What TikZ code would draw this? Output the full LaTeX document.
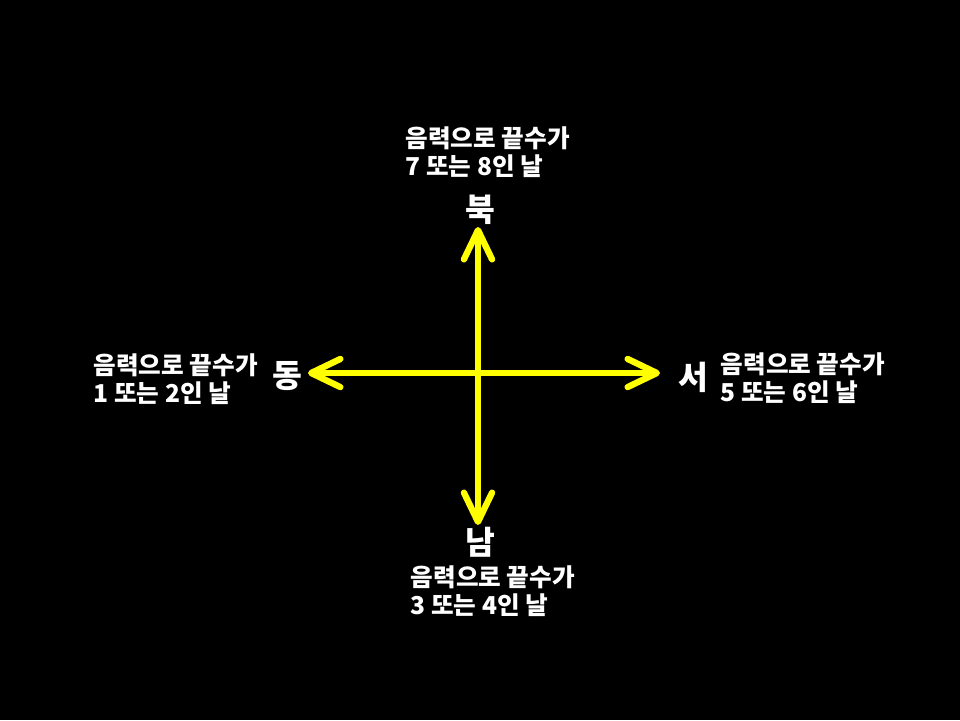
\documentclass[tikz,border=0pt]{standalone}
\usepackage{fontspec}
\usetikzlibrary{arrows.meta}
\newfontfamily\kr{Noto Sans CJK KR}
\definecolor{arrowyellow}{RGB}{255,255,0}
\begin{document}
\begin{tikzpicture}[x=0.01cm,y=-0.01cm,
  axis/.style={draw=arrowyellow, line width=1.8pt,
    {Straight Barb[length=8.3pt,width=8pt,round]}-{Straight Barb[length=8.3pt,width=8pt,round]}},
  dirlabel/.style={text=white, font=\kr\bfseries\fontsize{9.2pt}{10pt}\selectfont, inner sep=0pt},
  note/.style={text=white, font=\kr\bfseries\fontsize{7pt}{8.1pt}\selectfont, inner sep=0pt, align=left, anchor=west}]
\fill[black] (0,0) rectangle (960,720);
\useasboundingbox (0,0) rectangle (960,720);
\coordinate (ntip) at (478,227);
\coordinate (stip) at (478,525);
\coordinate (wtip) at (308,373);
\coordinate (etip) at (660,373);
\draw[axis] (ntip) -- (stip);
\draw[axis] (wtip) -- (etip);
\node[dirlabel] (north) at (480,210) {북};
\node[dirlabel] (south) at (480,542) {남};
\node[dirlabel] (east) at (287,376) {동};
\node[dirlabel] (west) at (693,377) {서};
\node[note] (nnote) at (405,152) {음력으로 끝수가\\7 또는 8인 날};
\node[note] (enote) at (93,379) {음력으로 끝수가\\1 또는 2인 날};
\node[note] (wnote) at (720,378) {음력으로 끝수가\\5 또는 6인 날};
\node[note] (snote) at (410,591) {음력으로 끝수가\\3 또는 4인 날};
\end{tikzpicture}
\end{document}
